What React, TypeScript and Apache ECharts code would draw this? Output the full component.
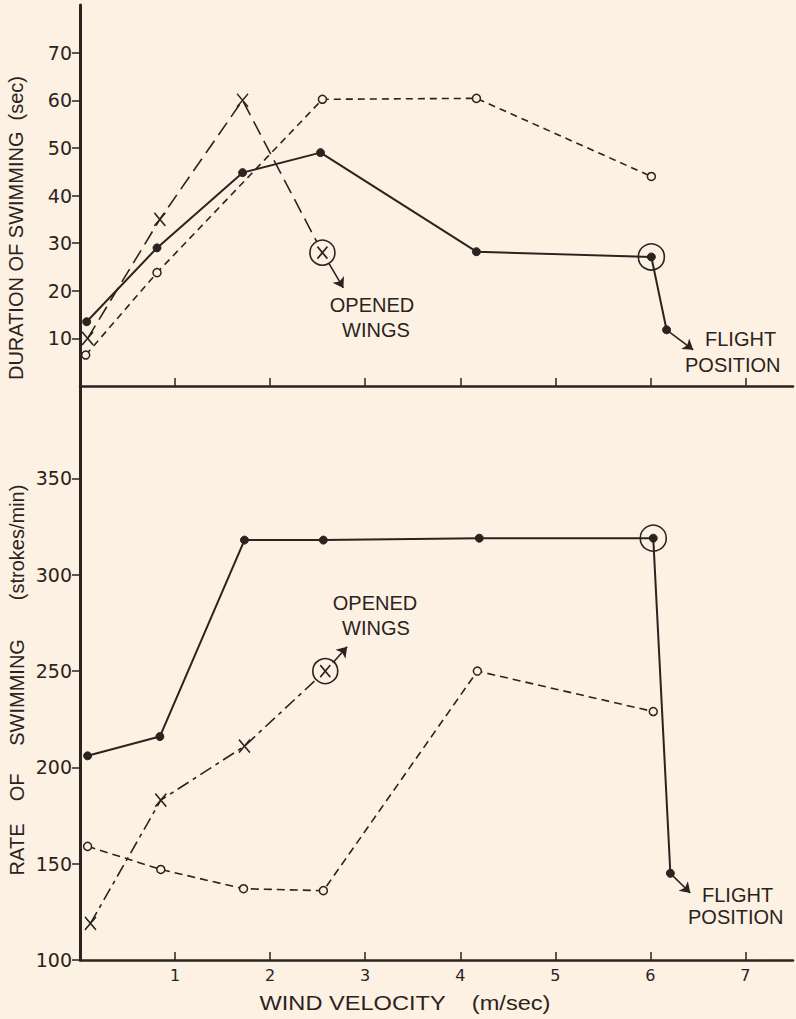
import React, { useEffect, useRef } from "react";
import * as echarts from "echarts";

// ---- axis ticks / labels ----
const windTicks = [1, 2, 3, 4, 5, 6, 7];
const durationTicks = [10, 20, 30, 40, 50, 60, 70];
const rateTicks = [100, 150, 200, 250, 300, 350];

// ---- top panel: duration of swimming (sec) ----
const durSolidX = [0.07, 0.81, 1.71, 2.53, 4.17, 6.01, 6.17];
const durSolidY = [13.5, 29, 44.8, 49, 28.2, 27.1, 11.8];
const durOpenX = [0.06, 0.81, 2.55, 4.17, 6.01];
const durOpenY = [6.5, 23.8, 60.2, 60.4, 44];
const durCrossX = [0.08, 0.84, 1.71, 2.55];
const durCrossY = [10, 35, 60, 28];
// arrows (data units): [from, to]
const durWingsArrow = [[2.62, 25.7], [2.77, 20.6]];
const durFlightArrow = [[6.17, 11.8], [6.45, 7.6]];

// ---- bottom panel: rate of swimming (strokes/min) ----
const rateSolidX = [0.08, 0.84, 1.73, 2.56, 4.2, 6.03, 6.21];
const rateSolidY = [206, 216, 318, 318, 319, 319, 145];
const rateOpenX = [0.08, 0.85, 1.72, 2.56, 4.18, 6.03];
const rateOpenY = [159, 147, 137, 136, 250, 229];
const rateCrossX = [0.11, 0.85, 1.73, 2.58];
const rateCrossY = [119, 183, 211, 250];
const rateWingsArrow = [[2.66, 254.3], [2.81, 262.6]];
const rateFlightArrow = [[6.21, 145], [6.42, 134.8]];

const INK = "#2b2320";
const BG = "#fcf1e3";
const FONT = "'Liberation Sans', Arial, sans-serif";
const NUMFONT = "'DejaVu Sans', sans-serif";
const XSYM = "path://M0,0L10,12M10,0L0,12";

const zip = (xs: number[], ys: number[]) => xs.map((x, i) => [x, ys[i]]);

function arrow(a: number[][]) {
  return {
    silent: true,
    symbol: ["none", "arrow"],
    symbolSize: 10,
    label: { show: false },
    lineStyle: { color: INK, width: 1.6, type: "solid", opacity: 1 },
    data: [[{ coord: a[0] }, { coord: a[1] }]],
  };
}

function panelSeries(
  idx: number,
  solidX: number[], solidY: number[],
  openX: number[], openY: number[],
  crossX: number[], crossY: number[],
  wings: number[][], flight: number[][],
  crossDash: number[], openDash: number[]
) {
  const ax = { xAxisIndex: idx, yAxisIndex: idx };
  const last = crossX.length - 1;
  return [
    {
      ...ax, type: "line", data: zip(solidX, solidY),
      symbol: "circle", symbolSize: 8,
      itemStyle: { color: INK, borderColor: INK, borderWidth: 1, opacity: 1 },
      lineStyle: { color: INK, width: 2, type: "solid" },
      markLine: arrow(flight), z: 3,
    },
    {
      ...ax, type: "line", data: zip(openX, openY),
      symbol: "circle", symbolSize: 8,
      itemStyle: { color: BG, borderColor: INK, borderWidth: 1.5, opacity: 1 },
      lineStyle: { color: INK, width: 1.6, type: openDash },
      z: 3,
    },
    {
      ...ax, type: "line", data: zip(crossX, crossY),
      symbol: XSYM, symbolSize: [11, 13],
      itemStyle: { color: INK, borderColor: INK, borderWidth: 1.6, opacity: 1 },
      lineStyle: { color: INK, width: 1.6, type: crossDash },
      markLine: arrow(wings), z: 3,
    },
    {
      ...ax, type: "scatter", data: [[crossX[last], crossY[last]]],
      symbol: "circle", symbolSize: 25,
      itemStyle: { color: BG, borderColor: INK, borderWidth: 1.6, opacity: 1 }, z: 4,
    },
    {
      ...ax, type: "scatter", data: [[crossX[last], crossY[last]]],
      symbol: XSYM, symbolSize: [10, 12],
      itemStyle: { color: INK, borderColor: INK, borderWidth: 1.8, opacity: 1 }, z: 5,
    },
    {
      ...ax, type: "scatter", data: [[solidX[5], solidY[5]]],
      symbol: "circle", symbolSize: 26,
      itemStyle: { color: "rgba(0,0,0,0)", borderColor: INK, borderWidth: 1.6, opacity: 1 }, z: 4,
    },
  ];
}

function xAxis(idx: number, labels: boolean) {
  return {
    gridIndex: idx, type: "value", min: 0, max: 7.5,
    axisLine: { show: true, onZero: false, lineStyle: { color: INK, width: 2.5 } },
    axisTick: { show: true, inside: true, length: 8, customValues: windTicks, lineStyle: { color: INK, width: 1.5 } },
    axisLabel: { show: labels, customValues: windTicks, color: INK, fontSize: 16, fontFamily: NUMFONT, margin: 7 },
    splitLine: { show: false },
  };
}

function yAxis(idx: number, min: number, max: number, ticks: number[]) {
  return {
    gridIndex: idx, type: "value", min, max,
    axisLine: { show: true, onZero: false, lineStyle: { color: INK, width: 3 } },
    axisTick: { show: true, length: 8, customValues: ticks, lineStyle: { color: INK, width: 1.5 } },
    axisLabel: { show: true, customValues: ticks, color: INK, fontSize: 19, fontFamily: NUMFONT, margin: 8 },
    splitLine: { show: false },
  };
}

function txt(text: string, x: number, y: number, align: string, extra: any = {}) {
  return {
    type: "text", x, y, ...extra,
    style: { text, fontSize: 20, fontFamily: FONT, fill: INK, align, verticalAlign: "middle" },
  };
}

const NB = "\u00A0";

export default function App() {
  const ref = useRef<HTMLDivElement>(null);
  useEffect(() => {
    if (!ref.current) return;
    const chart = echarts.init(ref.current, undefined, { renderer: "svg" });
    chart.setOption({
      animation: false,
      backgroundColor: BG,
      grid: [
        { left: 80, top: 5, width: 713, height: 381 },
        { left: 80, top: 386, width: 713, height: 574 },
      ],
      xAxis: [xAxis(0, false), xAxis(1, true)],
      yAxis: [yAxis(0, 0, 80, durationTicks), yAxis(1, 100, 398, rateTicks)],
      series: [
        ...panelSeries(0, durSolidX, durSolidY, durOpenX, durOpenY, durCrossX, durCrossY,
          durWingsArrow, durFlightArrow, [15, 7], [7, 5]),
        ...panelSeries(1, rateSolidX, rateSolidY, rateOpenX, rateOpenY, rateCrossX, rateCrossY,
          rateWingsArrow, rateFlightArrow, [13, 5, 4, 5], [8, 5]),
      ],
      graphic: [
        txt("DURATION OF SWIMMING" + NB + NB + "(sec)", 16, 228, "center", { rotation: Math.PI / 2 }),
        txt("RATE" + NB.repeat(4) + "OF" + NB.repeat(5) + "SWIMMING" + NB.repeat(7) + "(strokes/min)", 17, 680, "center", { rotation: Math.PI / 2 }),
        txt("WIND VELOCITY" + NB.repeat(4) + "(m/sec)", 405, 1003, "center", { scaleX: 1.18 }),
        txt("OPENED", 372, 305, "center"),
        txt("WINGS", 376, 330, "center"),
        txt("FLIGHT", 705, 339, "left"),
        txt("POSITION", 685, 365, "left"),
        txt("OPENED", 375, 603, "center"),
        txt("WINGS", 376, 628, "center"),
        txt("FLIGHT", 702, 895, "left"),
        txt("POSITION", 688, 917, "left"),
      ],
    });
    return () => chart.dispose();
  }, []);
  return <div ref={ref} style={{ position: "fixed", left: 0, top: 0, width: 796, height: 1019 }} />;
}
